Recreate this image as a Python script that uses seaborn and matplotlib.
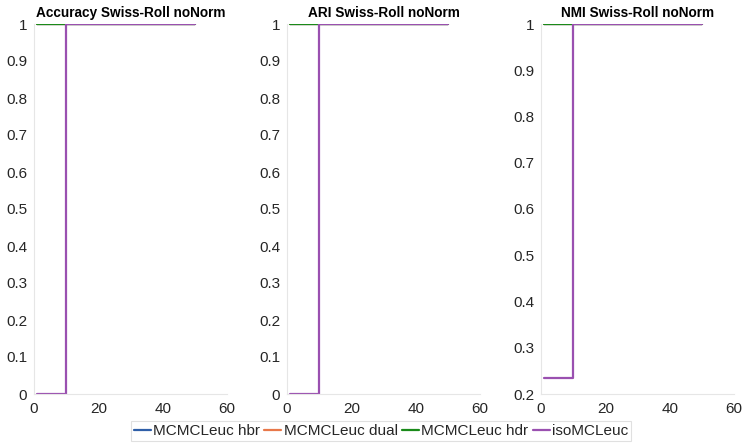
import numpy as np
import pandas as pd
import seaborn as sns
import matplotlib.pyplot as plt

sns.set_theme(style="white")
plt.rcParams['font.family'] = ['Liberation Sans', 'DejaVu Sans']

# Iteration checkpoints and scores per method
iterations = [1, 10, 20, 30, 40, 50]
methods = ["MCMCLeuc hbr", "MCMCLeuc dual", "MCMCLeuc hdr", "isoMCLeuc"]
colors = ["#2f5fa8", "#e8784a", "#1a8a1a", "#9a50b0"]

acc_hbr = [1, 1, 1, 1, 1, 1]
acc_dual = [1, 1, 1, 1, 1, 1]
acc_hdr = [1, 1, 1, 1, 1, 1]
acc_iso = [0, 1, 1, 1, 1, 1]

ari_hbr = [1, 1, 1, 1, 1, 1]
ari_dual = [1, 1, 1, 1, 1, 1]
ari_hdr = [1, 1, 1, 1, 1, 1]
ari_iso = [0, 1, 1, 1, 1, 1]

nmi_hbr = [1, 1, 1, 1, 1, 1]
nmi_dual = [1, 1, 1, 1, 1, 1]
nmi_hdr = [1, 1, 1, 1, 1, 1]
nmi_iso = [0.235, 1, 1, 1, 1, 1]

panels = [
    ("Accuracy Swiss-Roll noNorm", [acc_hbr, acc_dual, acc_hdr, acc_iso], (0, 1),
     [0, 0.1, 0.2, 0.3, 0.4, 0.5, 0.6, 0.7, 0.8, 0.9, 1]),
    ("ARI Swiss-Roll noNorm", [ari_hbr, ari_dual, ari_hdr, ari_iso], (0, 1),
     [0, 0.1, 0.2, 0.3, 0.4, 0.5, 0.6, 0.7, 0.8, 0.9, 1]),
    ("NMI Swiss-Roll noNorm", [nmi_hbr, nmi_dual, nmi_hdr, nmi_iso], (0.2, 1),
     [0.2, 0.3, 0.4, 0.5, 0.6, 0.7, 0.8, 0.9, 1]),
]

fig = plt.figure(figsize=(7.43, 4.43), dpi=100)
lefts = [34, 287, 541]
W, H = 743, 443
axes = []
for left in lefts:
    axes.append(fig.add_axes([left / W, 1 - 394 / H, 193 / W, 370 / H]))

handles = None
for ax, (title, series, ylim, yticks) in zip(axes, panels):
    frames = []
    for name, vals in zip(methods, series):
        frames.append(pd.DataFrame({"iter": iterations, "score": vals, "method": name}))
    df = pd.concat(frames, ignore_index=True)
    sns.lineplot(data=df, x="iter", y="score", hue="method", palette=colors,
                 hue_order=methods, drawstyle="steps-post", linewidth=1.6,
                 ax=ax, legend=True)
    handles, labels = ax.get_legend_handles_labels()
    ax.get_legend().remove()
    ax.set_xlim(0, 60)
    ax.set_ylim(*ylim)
    ax.set_xticks([0, 20, 40, 60])
    ax.set_xticklabels(["0", "20", "40", "60"])
    ax.set_yticks(yticks)
    ax.set_yticklabels([f"{t:g}" for t in yticks])
    ax.set_xlabel("")
    ax.set_ylabel("")
    ax.set_title(title, fontsize=9.8, fontweight="bold", pad=5, color="black")
    for side in ["top", "right"]:
        ax.spines[side].set_visible(False)
    for side in ["left", "bottom"]:
        ax.spines[side].set_color("#e6e6e6")
        ax.spines[side].set_linewidth(0.8)
    ax.tick_params(axis="both", labelsize=11, colors="#262626", length=2,
                   width=0.6, direction="in")
    ax.tick_params(axis="x", pad=6)
    ax.tick_params(axis="y", pad=5)
    ax.tick_params(axis="both", color="#d0d0d0")

leg = fig.legend(handles, methods, loc="center", ncol=4,
                 bbox_to_anchor=(381 / W, 1 - 431 / H), fontsize=11,
                 frameon=True, handlelength=1.1, handletextpad=0.15,
                 columnspacing=0.3, borderpad=0.2, fancybox=False)
leg.get_frame().set_edgecolor("#d9d9d9")
leg.get_frame().set_linewidth(0.8)

fig.savefig("out.png", dpi=100)
